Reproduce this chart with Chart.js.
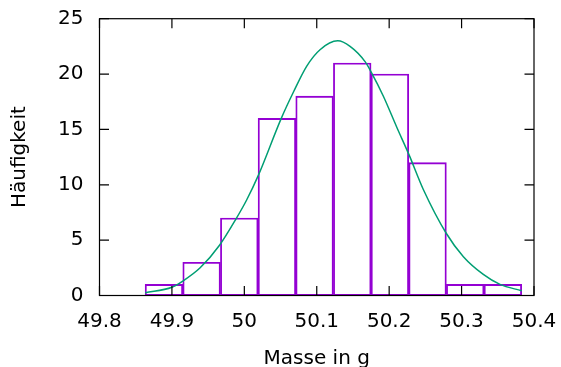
<!DOCTYPE html>
<html>
<head>
<meta charset="utf-8">
<script src="https://cdn.jsdelivr.net/npm/chart.js@4.4.1/dist/chart.umd.min.js"></script>
<style>
  body { margin: 0; background: #fff; }
  #wrap { width: 561px; height: 367px; }
</style>
</head>
<body>
<div id="wrap"><canvas id="histChart" width="561" height="367"></canvas></div>
<script>
// histogram bins (centre of each bin) and counts
const binCenters = [49.889, 49.941, 49.993, 50.045, 50.097, 50.149, 50.201, 50.253, 50.305, 50.357];
const binCounts = [1, 3, 7, 16, 18, 21, 20, 12, 1, 1];

// fitted curve
const curveX = [49.863, 49.9, 49.915, 49.939, 49.966, 49.989, 50.003, 50.019, 50.051, 50.068,
                50.086, 50.1045, 50.129, 50.146, 50.167, 50.175, 50.192, 50.2105, 50.2275, 50.247,
                50.279, 50.3025, 50.33, 50.353, 50.383];
const curveY = [0.25, 0.74, 1.3, 2.5, 4.56, 6.97, 8.6, 10.8, 16.0, 18.4,
                20.7, 22.2, 23.0, 22.5, 21.1, 20.2, 18.0, 15.2, 12.7, 9.6,
                5.6, 3.5, 1.9, 1.0, 0.43];

// axis ranges
const xMin = 49.8, xMax = 50.4, xStep = 0.1;
const yMin = 0, yMax = 25, yStep = 5;

const font = { family: 'DejaVu Sans', size: 20 };

// gnuplot style frame with inward ticks on all four sides
const framePlugin = {
    id: 'frame',
    afterDatasetsDraw(chart) {
        const { ctx, chartArea: a, scales: { x, y } } = chart;
        const t = 9.5;
        ctx.save();
        ctx.strokeStyle = '#000';
        ctx.lineWidth = 1.2;
        ctx.beginPath();
        x.ticks.forEach(tk => {
            const px = x.getPixelForValue(tk.value);
            ctx.moveTo(px, a.bottom); ctx.lineTo(px, a.bottom - t);
            ctx.moveTo(px, a.top); ctx.lineTo(px, a.top + t);
        });
        y.ticks.forEach(tk => {
            const py = y.getPixelForValue(tk.value);
            ctx.moveTo(a.left, py); ctx.lineTo(a.left + t, py);
            ctx.moveTo(a.right, py); ctx.lineTo(a.right - t, py);
        });
        ctx.stroke();
        ctx.strokeRect(a.left, a.top, a.right - a.left, a.bottom - a.top);
        ctx.restore();
    }
};

new Chart(document.getElementById('histChart').getContext('2d'), {
    type: 'bar',
    data: {
        datasets: [
            {
                type: 'bar',
                data: binCenters.map((c, i) => ({ x: c, y: binCounts[i] })),
                backgroundColor: 'rgba(0,0,0,0)',
                borderColor: '#9400d3',
                borderWidth: 1.2,
                borderSkipped: false,
                barPercentage: 1,
                categoryPercentage: 1,
                order: 1
            },
            {
                type: 'line',
                data: curveX.map((v, i) => ({ x: v, y: curveY[i] })),
                borderColor: '#009e73',
                borderWidth: 1.5,
                pointRadius: 0,
                fill: false,
                cubicInterpolationMode: 'monotone',
                order: 0
            }
        ]
    },
    options: {
        responsive: false,
        animation: false,
        layout: { padding: { top: 18.7, right: 27, left: 0, bottom: 0 } },
        plugins: {
            legend: { display: false },
            tooltip: { enabled: false }
        },
        scales: {
            x: {
                type: 'linear',
                offset: false,
                min: xMin,
                max: xMax,
                grid: { display: false, drawTicks: false },
                border: { display: false },
                ticks: {
                    stepSize: xStep,
                    color: '#000',
                    font: font,
                    padding: 14,
                    maxRotation: 0,
                    callback: v => String(Math.round(v * 10) / 10)
                },
                title: {
                    display: true,
                    text: 'Masse in g',
                    color: '#000',
                    font: { family: 'DejaVu Sans', size: 20, lineHeight: 1 },
                    padding: { top: 0, bottom: -2 }
                },
                afterFit: s => {
                    s.height = 71.5;
                    s.paddingLeft = 0;
                    s.paddingRight = 0;
                }
            },
            y: {
                min: yMin,
                max: yMax,
                grid: { display: false, drawTicks: false },
                border: { display: false },
                ticks: {
                    stepSize: yStep,
                    color: '#000',
                    font: font,
                    padding: 16
                },
                title: {
                    display: true,
                    text: 'Häufigkeit',
                    color: '#000',
                    font: { family: 'DejaVu Sans', size: 20, lineHeight: 1 },
                    padding: { top: 10, bottom: 0 }
                },
                afterFit: s => {
                    s.width = 99.5;
                    s.paddingTop = 0;
                    s.paddingBottom = 0;
                }
            }
        }
    },
    plugins: [framePlugin]
});
</script>
</body>
</html>
